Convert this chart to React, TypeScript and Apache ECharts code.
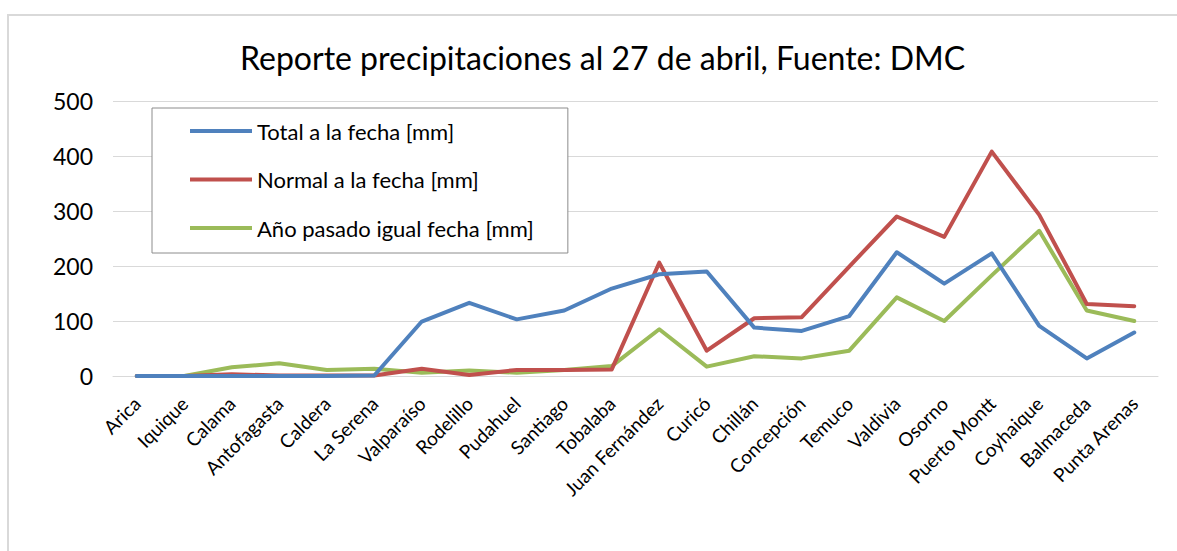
import React, { useEffect, useRef } from "react";
import * as echarts from "echarts";

const categories = [
  "Arica", "Iquique", "Calama", "Antofagasta", "Caldera", "La Serena",
  "Valparaíso", "Rodelillo", "Pudahuel", "Santiago", "Tobalaba",
  "Juan Fernández", "Curicó", "Chillán", "Concepción", "Temuco",
  "Valdivia", "Osorno", "Puerto Montt", "Coyhaique", "Balmaceda", "Punta Arenas",
];

const totalFecha = [0, 0, 0, 0, 0, 1, 99, 133, 103, 119, 159, 185, 190, 88, 82, 109, 225, 168, 223, 91, 32, 79];
const normalFecha = [0, 0, 3, 1, 1, 1, 13, 2, 11, 11, 12, 206, 46, 105, 107, 199, 290, 253, 408, 293, 131, 127];
const anoPasado = [0, 0, 16, 23, 11, 13, 6, 10, 6, 11, 18, 85, 17, 36, 32, 46, 143, 100, 183, 264, 119, 100];

const seriesNames = [
  "Total a la fecha [mm]",
  "Normal a la fecha [mm]",
  "Año pasado igual fecha [mm]",
];
const yTicks = { min: 0, max: 500, interval: 100 };
const titleText = "Reporte precipitaciones al 27 de abril, Fuente: DMC";

const FONT = "Lato";

export default function App() {
  const ref = useRef<HTMLDivElement>(null);
  useEffect(() => {
    if (!ref.current) return;
    const chart = echarts.init(ref.current, null, { renderer: "svg" });
    const colors = ["#4F81BD", "#C0504D", "#9BBB59"];
    const data = [totalFecha, normalFecha, anoPasado];
    chart.setOption({
      animation: false,
      backgroundColor: "#ffffff",
      textStyle: { fontFamily: FONT },
      title: {
        text: titleText,
        left: 235,
        top: 36,
        textStyle: { fontFamily: FONT, fontSize: 32, fontWeight: "normal", color: "#000000" },
      },
      graphic: [
        {
          type: "rect",
          shape: { x: 8, y: 15, width: 1200, height: 600 },
          style: { fill: "none", stroke: "#d9d9d9", lineWidth: 2 },
          silent: true,
        },
      ],
      legend: {
        orient: "vertical",
        left: 152,
        top: 108,
        padding: [10, 34, 12, 38],
        itemGap: 22.5,
        itemWidth: 62,
        itemHeight: 4,
        icon: "rect",
        borderColor: "#8c8c8c",
        borderWidth: 1,
        backgroundColor: "#ffffff",
        textStyle: { fontFamily: FONT, fontSize: 22, color: "#000000", lineHeight: 26 },
        data: seriesNames,
      },
      grid: { left: 113, right: 19, top: 101, bottom: 175, containLabel: false },
      xAxis: {
        type: "category",
        data: categories,
        boundaryGap: true,
        axisLine: { lineStyle: { color: "#d9d9d9", width: 1 } },
        axisTick: { show: false },
        axisLabel: {
          rotate: 45,
          interval: 0,
          margin: 24,
          fontFamily: FONT,
          fontSize: 19,
          color: "#000000",
        },
      },
      yAxis: {
        type: "value",
        min: yTicks.min,
        max: yTicks.max,
        interval: yTicks.interval,
        axisLine: { show: false },
        axisTick: { show: false },
        splitLine: { lineStyle: { color: "#d9d9d9", width: 1 } },
        axisLabel: { margin: 20, fontFamily: FONT, fontSize: 23, color: "#000000" },
      },
      series: seriesNames.map((name, i) => ({
        name,
        type: "line",
        data: data[i],
        symbol: "none",
        smooth: false,
        z: 3 - i,
        lineStyle: { color: colors[i], width: 4, cap: "round", join: "round" },
        itemStyle: { color: colors[i] },
      })),
    });
    return () => chart.dispose();
  }, []);
  return (
    <div
      ref={ref}
      style={{ position: "absolute", left: 0, top: 0, width: 1177, height: 551 }}
    />
  );
}
